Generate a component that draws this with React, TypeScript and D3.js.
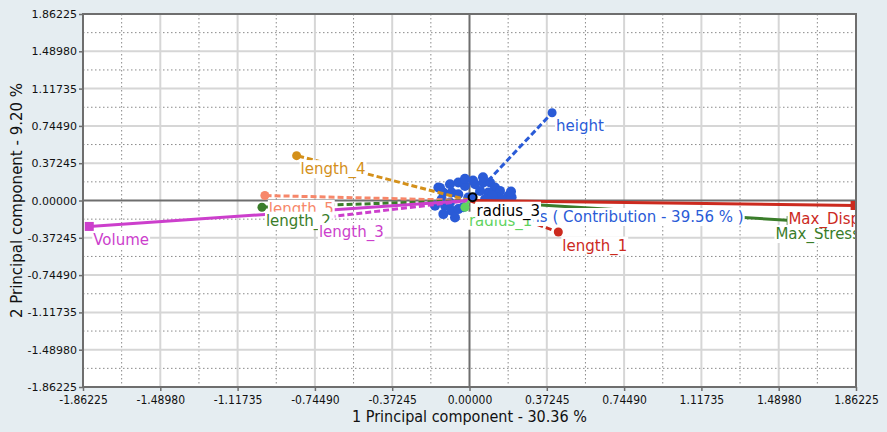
import { useEffect, useRef } from "react";
import * as d3 from "d3";

// axis ticks (both axes share the same range)
const ticks = [-1.86225, -1.4898, -1.11735, -0.7449, -0.37245, 0, 0.37245, 0.7449, 1.11735, 1.4898, 1.86225];

// variable loadings
const variables = ["Designs", "height", "length_4", "length_5", "length_2", "Volume", "length_3", "Max_Stress", "Max_Disp", "length_1", "radius_1", "radius_3"];
const varPc1 = [0.07, 0.398, -0.833, -0.986, -1.0, -1.832, -0.745, 1.55, 1.858, 0.428, -0.022, 0.015];
const varPc2 = [-0.03, 0.876, 0.448, 0.05, -0.067, -0.259, -0.18, -0.2, -0.05, -0.315, -0.067, 0.033];

// design points (scores)
const designPc1 = [-0.15, -0.094, -0.054, -0.022, 0.027, 0.067, 0.099, 0.123, 0.091, 0.147, 0.187, -0.126, -0.086, -0.054, 0.051, -0.166, -0.118, -0.126, -0.086, -0.054, -0.07, -0.094, -0.006, 0.075, 0.131, 0.161, -0.134, 0.017, 0.065, -0.022, 0.186, -0.142, 0.203, -0.03, 0.11, 0.2];
const designPc2 = [0.129, 0.162, 0.179, 0.146, 0.162, 0.179, 0.179, 0.129, 0.08, 0.096, 0.047, 0.08, 0.08, 0.063, 0.096, -0.053, -0.053, -0.136, -0.103, -0.086, -0.17, -0.02, 0.03, 0.013, 0.03, 0.013, 0.013, 0.2, 0.232, 0.216, -0.017, 0.126, 0.033, -0.067, 0.05, 0.09];

const style: Record<string, { color: string; dash: boolean; square: boolean }> = {
  Designs: { color: "#2a5bd7", dash: false, square: false },
  height: { color: "#2a5bd7", dash: true, square: false },
  length_4: { color: "#d4901a", dash: true, square: false },
  length_5: { color: "#f7876a", dash: true, square: false },
  length_2: { color: "#3a7d2a", dash: true, square: false },
  Volume: { color: "#cc3fcc", dash: false, square: true },
  length_3: { color: "#cc3fcc", dash: true, square: false },
  Max_Stress: { color: "#3a7d2a", dash: false, square: true },
  Max_Disp: { color: "#cc2a1e", dash: false, square: true },
  length_1: { color: "#cc2a1e", dash: true, square: false },
  radius_1: { color: "#5fd35f", dash: false, square: false },
  radius_3: { color: "#000000", dash: true, square: false },
};

export default function App() {
  const svgRef = useRef<SVGSVGElement>(null);

  useEffect(() => {
    if (!svgRef.current) return;
    const width = 887;
    const height = 432;
    const margin = { top: 14, right: 31, bottom: 45, left: 83 };
    const fmt = (v: number) => v.toFixed(5);

    const svg = d3.select(svgRef.current);
    svg.selectAll("*").remove();
    svg.attr("width", width).attr("height", height);

    svg.append("rect").attr("width", width).attr("height", height).attr("fill", "#e5edf1");

    const x = d3.scaleLinear().domain([ticks[0], ticks[ticks.length - 1]]).range([margin.left, width - margin.right]);
    const y = d3.scaleLinear().domain([ticks[0], ticks[ticks.length - 1]]).range([height - margin.bottom, margin.top]);
    const [x0, x1] = x.range();
    const [y0, y1] = y.range();

    svg.append("rect").attr("x", x0).attr("y", y1).attr("width", x1 - x0).attr("height", y0 - y1).attr("fill", "#fff");

    svg.append("clipPath").attr("id", "plot-clip").append("rect")
      .attr("x", x0).attr("y", y1).attr("width", x1 - x0).attr("height", y0 - y1);

    const minor = ticks.slice(1).map((t, i) => (t + ticks[i]) / 2);
    const grid = svg.append("g");
    grid.selectAll(".mx").data(minor).join("line")
      .attr("x1", (d) => x(d)).attr("x2", (d) => x(d)).attr("y1", y1).attr("y2", y0)
      .attr("stroke", "#8a8a8a").attr("stroke-dasharray", "1.5,2.5");
    grid.selectAll(".my").data(minor).join("line")
      .attr("y1", (d) => y(d)).attr("y2", (d) => y(d)).attr("x1", x0).attr("x2", x1)
      .attr("stroke", "#8a8a8a").attr("stroke-dasharray", "1.5,2.5");
    const inner = ticks.slice(1, -1).filter((t) => t !== 0);
    grid.selectAll(".gx").data(inner).join("line")
      .attr("x1", (d) => x(d)).attr("x2", (d) => x(d)).attr("y1", y1).attr("y2", y0)
      .attr("stroke", "#d6d6d6").attr("stroke-width", 2);
    grid.selectAll(".gy").data(inner).join("line")
      .attr("y1", (d) => y(d)).attr("y2", (d) => y(d)).attr("x1", x0).attr("x2", x1)
      .attr("stroke", "#d6d6d6").attr("stroke-width", 2);
    grid.append("line").attr("x1", x(0)).attr("x2", x(0)).attr("y1", y1).attr("y2", y0).attr("stroke", "#6e6e6e").attr("stroke-width", 2);
    grid.append("line").attr("y1", y(0)).attr("y2", y(0)).attr("x1", x0).attr("x2", x1).attr("stroke", "#6e6e6e").attr("stroke-width", 2);

    const plot = svg.append("g").attr("clip-path", "url(#plot-clip)");

    // design points
    plot.selectAll(".dot").data(designPc1).join("circle")
      .attr("cx", (d) => x(d)).attr("cy", (_, i) => y(designPc2[i])).attr("r", 5)
      .attr("fill", "#2a5bd7");

    const vars = variables.map((name, i) => ({ name, px: x(varPc1[i]), py: y(varPc2[i]), ...style[name] }));
    const loadings = vars.filter((v) => v.name !== "Designs");

    plot.selectAll(".vec").data(loadings).join("line")
      .attr("x1", x(0)).attr("y1", y(0)).attr("x2", (d) => d.px).attr("y2", (d) => d.py)
      .attr("stroke", (d) => d.color).attr("stroke-width", 3)
      .attr("stroke-dasharray", (d) => (d.dash ? "6,3" : null));

    loadings.forEach((v) => {
      if (v.square) {
        plot.append("rect").attr("x", v.px - 4.5).attr("y", v.py - 4.5).attr("width", 9).attr("height", 9).attr("fill", v.color);
      } else if (v.name === "radius_3") {
        plot.append("circle").attr("cx", v.px).attr("cy", v.py).attr("r", 4).attr("fill", "#2a5bd7").attr("stroke", "#000").attr("stroke-width", 2);
      } else {
        plot.append("circle").attr("cx", v.px).attr("cy", v.py).attr("r", 4.5).attr("fill", v.color);
      }
    });

    // labels with white boxes
    const labels = svg.append("g").attr("clip-path", "url(#plot-clip)")
      .attr("font-family", "DejaVu Sans, Verdana, sans-serif").attr("font-size", 15);
    vars.forEach((v) => {
      const g = labels.append("g");
      const text = g.append("text").attr("fill", v.color)
        .text(v.name === "Designs" ? "Designs ( Contribution - 39.56 % )" : v.name);
      const w = (text.node() as SVGTextElement).getComputedTextLength();
      const tx = Math.min(v.px + 4, x1 - w + 4);
      const ty = v.py + 18.5;
      text.attr("x", tx).attr("y", ty);
      g.insert("rect", "text").attr("x", tx - 1).attr("y", ty - 14).attr("width", w + 2).attr("height", 18).attr("fill", "#fff");
    });

    svg.append("rect").attr("x", x0).attr("y", y1).attr("width", x1 - x0).attr("height", y0 - y1)
      .attr("fill", "none").attr("stroke", "#6e6e6e").attr("stroke-width", 2);

    // axes
    const xAxis = svg.append("g").attr("transform", `translate(0,${y0})`)
      .call(d3.axisBottom(x).tickValues(ticks).tickFormat((d) => fmt(+d)).tickSize(4).tickSizeOuter(0));
    const yAxis = svg.append("g").attr("transform", `translate(${x0},0)`)
      .call(d3.axisLeft(y).tickValues(ticks).tickFormat((d) => fmt(+d)).tickSize(4).tickSizeOuter(0));
    [xAxis, yAxis].forEach((a) => {
      a.select(".domain").remove();
      a.selectAll("line").attr("stroke", "#6e6e6e").attr("stroke-width", 1.5);
      a.selectAll("text").attr("fill", "#111").attr("font-size", 11).attr("font-family", "DejaVu Sans, sans-serif");
    });
    xAxis.selectAll("text").attr("font-family", "DejaVu Sans Condensed, Liberation Sans Narrow, DejaVu Sans, sans-serif").attr("font-size", 12).attr("dy", "0.85em");
    yAxis.selectAll("text").attr("x", -6);

    svg.append("text").attr("x", (x0 + x1) / 2).attr("y", 422).attr("text-anchor", "middle")
      .attr("font-family", "DejaVu Sans Condensed, Liberation Sans Narrow, DejaVu Sans, sans-serif").attr("font-size", 16).attr("fill", "#111")
      .text("1 Principal component - 30.36 %");
    svg.append("text").attr("transform", `translate(22,${(y0 + y1) / 2}) rotate(-90)`).attr("text-anchor", "middle")
      .attr("font-family", "DejaVu Sans, sans-serif").attr("font-size", 15).attr("fill", "#111")
      .text("2 Principal component - 9.20 %");
  }, []);

  return (
    <div style={{ position: "absolute", left: 0, top: 0 }}>
      <svg ref={svgRef} style={{ display: "block" }} />
    </div>
  );
}
